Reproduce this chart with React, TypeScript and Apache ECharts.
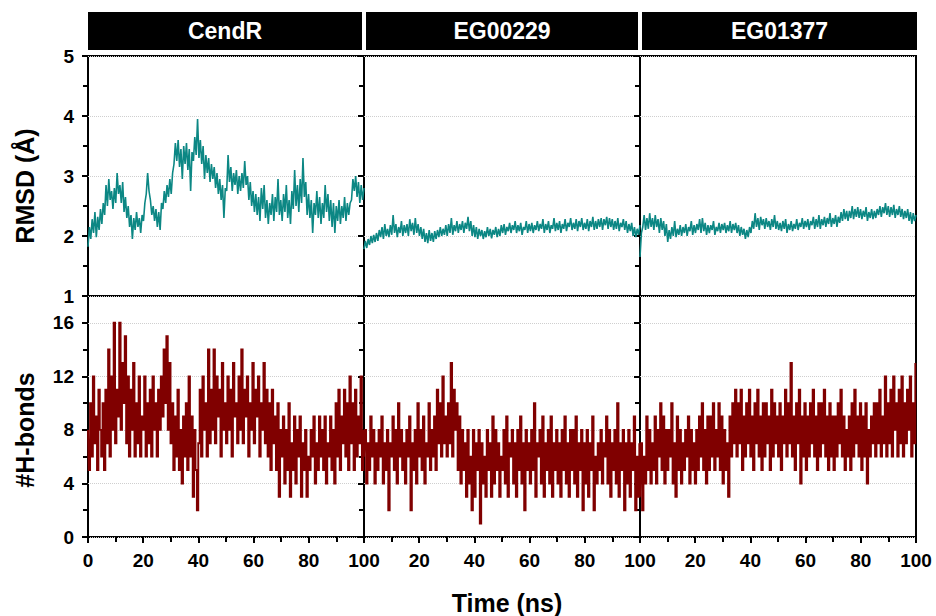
import React, { useEffect, useRef } from "react";
import * as echarts from "echarts";

const panelNames = ["CendR", "EG00229", "EG01377"];
const xTickLabels = [0, 20, 40, 60, 80, 100];
const rmsdTicks = [1, 2, 3, 4, 5];
const hbondTicks = [0, 4, 8, 12, 16];

// RMSD (Å), 200 samples over 0–100 ns
const rmsdCendR = [
  1.82, 2.15, 1.95, 2.28, 2.05, 2.4, 1.98, 2.32, 2.1, 2.45,
  2.2, 2.55, 2.35, 2.85, 2.5, 2.95, 2.6, 2.75, 2.45, 2.8,
  2.55, 3.05, 2.7, 2.85, 2.55, 2.9, 2.4, 2.65, 2.3, 2.5,
  2.15, 2.35, 1.95, 2.3, 2.1, 2.4, 2.15, 2.3, 2.05, 2.35,
  2.25, 2.55, 2.7, 3.05, 2.75, 2.6, 2.35, 2.5, 2.25, 2.45,
  2.15, 2.4, 2.1, 2.55, 2.45, 2.75, 2.55, 2.85, 2.65, 2.95,
  2.7, 3.05, 3.2, 3.55, 3.25, 3.6, 3.15, 3.45, 2.95, 3.5,
  3.2, 3.55, 3.1, 3.45, 2.75, 3.4, 3.25, 3.65, 3.35, 3.95,
  3.3, 3.6, 3.2, 3.5, 2.95, 3.35, 3.05, 3.3, 2.9, 3.2,
  2.95, 3.15, 2.8, 3.05, 2.7, 2.95, 2.6, 2.85, 2.3, 2.8,
  2.75, 3.35, 2.9, 3.15, 2.75, 3.05, 2.85, 3.1, 2.7, 3.0,
  2.75, 3.05, 2.8, 3.25, 2.85, 3.0, 2.6, 2.9, 2.5, 2.75,
  2.4, 2.7, 2.35, 2.65, 2.25, 2.8, 2.45, 2.85, 2.3, 2.6,
  2.2, 2.55, 2.35, 2.7, 2.25, 2.65, 2.4, 2.95, 2.35, 2.6,
  2.25, 2.7, 2.4, 2.85, 2.3, 2.6, 2.2, 2.75, 2.45, 3.1,
  2.5, 2.85, 2.4, 2.95, 2.55, 3.3, 2.65, 2.9, 2.35, 2.7,
  2.3, 2.6, 2.05, 2.55, 2.35, 2.75, 2.3, 2.65, 2.2, 2.55,
  2.3, 2.85, 2.4, 2.7, 2.25, 2.6, 2.15, 2.55, 2.05, 2.5,
  2.25, 2.6, 2.2, 2.5, 2.3, 2.65, 2.25, 2.55, 2.35, 2.55,
  2.6, 2.95, 2.75, 3.0, 2.65, 2.9, 2.55, 2.85, 2.6, 2.8,
];

const rmsdEG00229 = [
  1.78, 1.92, 1.8, 1.95, 1.85, 2.0, 1.88, 2.02, 1.9, 2.05,
  1.92, 2.1, 1.98, 2.15, 1.95, 2.2, 2.0, 2.12, 1.98, 2.18,
  2.02, 2.35, 2.05, 2.2, 1.98, 2.15, 2.05, 2.25, 2.0, 2.18,
  2.05, 2.2, 2.0, 2.28, 2.08, 2.22, 2.02, 2.3, 2.05, 2.2,
  2.0, 2.15, 1.95, 2.12, 1.9, 2.05, 1.88, 2.1, 1.92, 2.05,
  1.9, 2.08, 1.95, 2.1, 1.98, 2.15, 2.0, 2.12, 2.02, 2.18,
  2.0, 2.2, 2.05, 2.3, 2.02, 2.18, 2.08, 2.25, 2.05, 2.2,
  2.1, 2.25, 2.05, 2.22, 2.12, 2.32, 2.08, 2.25, 2.0, 2.18,
  1.98, 2.15, 1.95, 2.12, 2.0, 2.1, 1.95, 2.08, 1.98, 2.15,
  2.0, 2.12, 1.96, 2.1, 2.02, 2.15, 1.98, 2.12, 2.0, 2.18,
  2.05, 2.2, 2.02, 2.15, 2.08, 2.22, 2.05, 2.18, 2.1, 2.25,
  2.05, 2.18, 2.08, 2.22, 2.02, 2.15, 2.1, 2.25, 2.05, 2.2,
  2.08, 2.22, 2.05, 2.18, 2.1, 2.25, 2.08, 2.2, 2.12, 2.28,
  2.05, 2.2, 2.1, 2.25, 2.05, 2.18, 2.12, 2.3, 2.08, 2.22,
  2.1, 2.25, 2.05, 2.2, 2.12, 2.28, 2.08, 2.22, 2.15, 2.3,
  2.1, 2.22, 2.12, 2.28, 2.08, 2.25, 2.15, 2.3, 2.1, 2.22,
  2.12, 2.28, 2.08, 2.25, 2.15, 2.32, 2.1, 2.25, 2.12, 2.28,
  2.15, 2.3, 2.1, 2.28, 2.18, 2.32, 2.12, 2.3, 2.15, 2.28,
  2.1, 2.25, 2.12, 2.3, 2.08, 2.22, 2.15, 2.28, 2.1, 2.25,
  2.05, 2.2, 2.08, 2.22, 2.0, 2.15, 1.98, 2.12, 2.02, 2.18,
];

const rmsdEG01377 = [
  1.65, 2.05, 2.15, 2.35, 2.1, 2.3, 2.12, 2.38, 2.15, 2.3,
  2.1, 2.35, 2.15, 2.28, 2.05, 2.3, 2.1, 2.25, 2.0, 2.2,
  1.9, 2.1, 1.95, 2.15, 2.0, 2.25, 1.98, 2.12, 2.02, 2.18,
  2.0, 2.15, 2.05, 2.2, 2.0, 2.15, 2.08, 2.25, 2.02, 2.18,
  2.05, 2.2, 2.1, 2.28, 2.05, 2.3, 2.08, 2.22, 2.02, 2.18,
  2.05, 2.18, 2.1, 2.25, 2.02, 2.15, 2.08, 2.22, 2.05, 2.2,
  2.1, 2.22, 2.05, 2.18, 2.08, 2.25, 2.05, 2.2, 2.1, 2.22,
  2.05, 2.18, 2.0, 2.15, 2.02, 2.12, 1.95, 2.1, 1.98, 2.15,
  2.05, 2.25, 2.12, 2.38, 2.15, 2.3, 2.1, 2.32, 2.18, 2.28,
  2.12, 2.3, 2.15, 2.25, 2.1, 2.28, 2.15, 2.35, 2.12, 2.25,
  2.1, 2.22, 2.08, 2.25, 2.12, 2.28, 2.05, 2.2, 2.1, 2.25,
  2.08, 2.2, 2.12, 2.28, 2.1, 2.22, 2.15, 2.3, 2.12, 2.25,
  2.15, 2.28, 2.1, 2.25, 2.18, 2.32, 2.12, 2.28, 2.15, 2.35,
  2.12, 2.28, 2.18, 2.32, 2.15, 2.3, 2.2, 2.38, 2.15, 2.3,
  2.2, 2.35, 2.15, 2.32, 2.22, 2.4, 2.25, 2.45, 2.28, 2.42,
  2.25, 2.42, 2.3, 2.5, 2.28, 2.45, 2.32, 2.48, 2.3, 2.45,
  2.28, 2.42, 2.32, 2.48, 2.25, 2.4, 2.3, 2.45, 2.28, 2.42,
  2.3, 2.45, 2.35, 2.5, 2.32, 2.48, 2.38, 2.55, 2.35, 2.5,
  2.32, 2.48, 2.35, 2.52, 2.3, 2.45, 2.35, 2.5, 2.32, 2.45,
  2.28, 2.42, 2.3, 2.45, 2.25, 2.4, 2.2, 2.38, 2.25, 2.35,
];

// Number of hydrogen bonds, 200 samples over 0–100 ns
const hbCendR = [
  8, 5, 10, 6, 12, 7, 9, 5, 11, 8,
  6, 10, 5, 11, 7, 14, 6, 12, 8, 16,
  7, 11, 9, 16, 8, 13, 10, 15, 7, 12,
  6, 11, 8, 13, 6, 10, 7, 12, 6, 9,
  8, 12, 6, 10, 7, 11, 6, 12, 8, 10,
  6, 11, 8, 12, 9, 14, 10, 15, 8, 13,
  7, 10, 5, 9, 6, 11, 5, 8, 4, 9,
  6, 10, 5, 12, 6, 9, 3, 8, 5, 2,
  7, 11, 6, 12, 8, 10, 6, 14, 7, 11,
  8, 14, 7, 12, 9, 11, 6, 13, 8, 10,
  7, 12, 8, 11, 6, 13, 9, 10, 7, 12,
  8, 14, 7, 11, 9, 12, 6, 10, 8, 13,
  7, 11, 9, 12, 6, 10, 8, 13, 7, 11,
  6, 10, 5, 11, 7, 9, 5, 10, 3, 8,
  6, 9, 4, 8, 5, 10, 3, 7, 5, 9,
  4, 8, 6, 9, 3, 7, 5, 8, 3, 6,
  5, 8, 6, 9, 4, 7, 5, 9, 6, 8,
  5, 9, 4, 7, 6, 9, 5, 8, 4, 10,
  6, 11, 5, 9, 7, 11, 6, 10, 5, 12,
  7, 10, 5, 11, 6, 9, 7, 12, 5, 8,
];

const hbEG00229 = [
  6, 8, 4, 7, 5, 9, 6, 8, 4, 7,
  5, 8, 6, 9, 4, 7, 5, 8, 2, 7,
  6, 9, 5, 8, 4, 10, 6, 8, 5, 7,
  4, 8, 6, 9, 2, 7, 5, 8, 4, 10,
  6, 8, 5, 9, 4, 7, 6, 10, 5, 8,
  6, 9, 5, 11, 7, 10, 6, 12, 7, 9,
  6, 10, 7, 13, 6, 11, 8, 10, 5, 9,
  4, 8, 5, 7, 3, 8, 4, 6, 2, 8,
  3, 7, 5, 8, 1, 7, 4, 6, 3, 8,
  5, 7, 3, 9, 4, 8, 5, 7, 3, 6,
  5, 8, 4, 9, 3, 7, 6, 8, 4, 7,
  3, 8, 5, 9, 4, 7, 2, 8, 5, 7,
  4, 8, 5, 10, 3, 7, 6, 8, 4, 9,
  3, 7, 5, 8, 4, 9, 3, 7, 5, 8,
  4, 7, 3, 8, 5, 9, 4, 7, 3, 8,
  5, 8, 4, 9, 3, 7, 5, 8, 2, 7,
  4, 8, 3, 7, 5, 9, 2, 6, 4, 7,
  5, 8, 4, 7, 6, 9, 4, 8, 3, 7,
  5, 8, 4, 10, 3, 7, 5, 8, 2, 7,
  4, 8, 3, 7, 5, 9, 2, 6, 3, 7,
];

const hbEG01377 = [
  3, 7, 2, 6, 4, 9, 5, 8, 4, 7,
  5, 9, 4, 8, 6, 10, 5, 9, 4, 8,
  5, 8, 6, 10, 4, 7, 3, 9, 5, 8,
  4, 7, 5, 8, 6, 9, 4, 8, 5, 7,
  4, 8, 5, 9, 6, 10, 5, 8, 4, 9,
  5, 9, 6, 10, 5, 8, 6, 10, 5, 9,
  4, 8, 5, 7, 3, 9, 6, 10, 7, 11,
  6, 10, 7, 11, 5, 9, 6, 10, 7, 11,
  6, 9, 5, 10, 7, 11, 6, 9, 5, 10,
  6, 10, 7, 9, 5, 11, 6, 10, 7, 9,
  6, 10, 5, 9, 7, 11, 6, 10, 7, 13,
  6, 9, 5, 10, 7, 11, 4, 9, 6, 10,
  5, 9, 6, 10, 7, 11, 6, 9, 5, 10,
  6, 10, 7, 11, 6, 9, 5, 10, 6, 9,
  5, 9, 6, 10, 7, 11, 6, 9, 5, 8,
  6, 9, 5, 10, 6, 11, 7, 9, 6, 10,
  5, 9, 6, 10, 4, 8, 6, 9, 7, 10,
  6, 10, 7, 11, 6, 9, 7, 12, 6, 10,
  7, 11, 6, 12, 8, 10, 6, 11, 7, 12,
  6, 10, 7, 11, 8, 12, 6, 10, 7, 13,
];

const rmsdSeries = [rmsdCendR, rmsdEG00229, rmsdEG01377];
const hbSeries = [hbCendR, hbEG00229, hbEG01377];

const FONT = '"Liberation Sans", Arial, sans-serif';
const colLeft = [88, 364, 640];
const colWidth = 276;
const topRow = { top: 56, height: 240 };
const botRow = { top: 296, height: 241 };

function toPairs(vals: number[]) {
  const n = vals.length;
  return vals.map((v, i) => [(i * 100) / (n - 1), v]);
}

function buildOption() {
  const grids: any[] = [];
  const xAxes: any[] = [];
  const yAxes: any[] = [];
  const series: any[] = [];
  const graphics: any[] = [];

  const tickStyle = { color: "#000", width: 2 };
  const splitStyle = { color: "#cfcfcf", width: 1, type: "dotted" };

  for (let row = 0; row < 2; row++) {
    for (let col = 0; col < 3; col++) {
      const g = row * 3 + col;
      const r = row === 0 ? topRow : botRow;
      grids.push({
        left: colLeft[col],
        top: r.top,
        width: colWidth,
        height: r.height,
        show: true,
        borderColor: "#000",
        borderWidth: 2,
        backgroundColor: "transparent",
        containLabel: false,
        outerBoundsMode: "none",
      });
      xAxes.push({
        type: "value",
        gridIndex: g,
        min: xTickLabels[0],
        max: xTickLabels[xTickLabels.length - 1],
        interval: 20,
        axisLine: { show: false },
        axisTick: { show: row === 1, inside: false, length: 6, lineStyle: tickStyle },
        minorTick: { show: row === 1, splitNumber: 2, length: 5, lineStyle: tickStyle },
        splitLine: { show: false },
        axisLabel: {
          show: row === 1,
          margin: 14,
          color: "#000",
          fontFamily: FONT,
          fontWeight: "bold",
          fontSize: 19,
          formatter: (v: number) => (col > 0 && v === 0 ? "" : String(v)),
        },
      });
      const isTop = row === 0;
      yAxes.push({
        type: "value",
        gridIndex: g,
        min: isTop ? rmsdTicks[0] : hbondTicks[0],
        max: isTop ? rmsdTicks[rmsdTicks.length - 1] : 18,
        interval: isTop ? 1 : 4,
        axisLine: { show: false },
        axisTick: { show: true, inside: false, length: 6, lineStyle: tickStyle },
        minorTick: { show: true, splitNumber: 2, length: 5, lineStyle: tickStyle },
        splitLine: { show: true, lineStyle: splitStyle },
        axisLabel: {
          show: col === 0,
          margin: 14,
          color: "#000",
          fontFamily: FONT,
          fontWeight: "bold",
          fontSize: 19,
          showMaxLabel: isTop,
          formatter: (v: number) =>
            isTop ? (rmsdTicks.includes(v) ? String(v) : "") : hbondTicks.includes(v) ? String(v) : "",
        },
      });
      series.push({
        type: "line",
        name: `${isTop ? "RMSD" : "H-bonds"} ${panelNames[col]}`,
        xAxisIndex: g,
        yAxisIndex: g,
        data: toPairs(isTop ? rmsdSeries[col] : hbSeries[col]),
        showSymbol: false,
        symbol: "none",
        step: isTop ? false : "middle",
        lineStyle: isTop
          ? { color: "#0c8784", width: 1.6 }
          : { color: "#800000", width: 1.9, join: "miter" },
        silent: true,
      });
    }
  }

  const headerX = [88, 366, 642];
  const headerW = [274, 272, 275];
  for (let col = 0; col < 3; col++) {
    graphics.push({
      type: "rect",
      shape: { x: headerX[col], y: 12, width: headerW[col], height: 38 },
      style: { fill: "#000" },
      silent: true,
    });
    graphics.push({
      type: "text",
      x: headerX[col] + headerW[col] / 2,
      y: 31,
      style: {
        text: panelNames[col],
        fill: "#fff",
        font: `bold 23px ${FONT}`,
        textAlign: "center",
        textVerticalAlign: "middle",
      },
      silent: true,
    });
  }
  graphics.push({
    type: "text",
    x: 25,
    y: 186,
    rotation: Math.PI / 2,
    style: {
      text: "RMSD (Å)",
      fill: "#000",
      font: `bold 25px ${FONT}`,
      textAlign: "center",
      textVerticalAlign: "middle",
    },
  });
  graphics.push({
    type: "text",
    x: 25,
    y: 430,
    rotation: Math.PI / 2,
    style: {
      text: "#H-bonds",
      fill: "#000",
      font: `bold 25px ${FONT}`,
      textAlign: "center",
      textVerticalAlign: "middle",
    },
  });
  graphics.push({
    type: "text",
    x: 507,
    y: 603,
    style: {
      text: "Time (ns)",
      fill: "#000",
      font: `bold 25px ${FONT}`,
      textAlign: "center",
      textVerticalAlign: "middle",
    },
  });

  return {
    animation: false,
    backgroundColor: "#fff",
    grid: grids,
    xAxis: xAxes,
    yAxis: yAxes,
    series,
    graphic: graphics,
  };
}

export default function App() {
  const ref = useRef<HTMLDivElement>(null);
  useEffect(() => {
    if (!ref.current) return;
    const chart = echarts.init(ref.current, null, { renderer: "svg" });
    chart.setOption(buildOption() as any);
    return () => chart.dispose();
  }, []);
  return (
    <div
      ref={ref}
      style={{ position: "fixed", left: 0, top: 0, width: 936, height: 616, background: "#fff" }}
    />
  );
}
